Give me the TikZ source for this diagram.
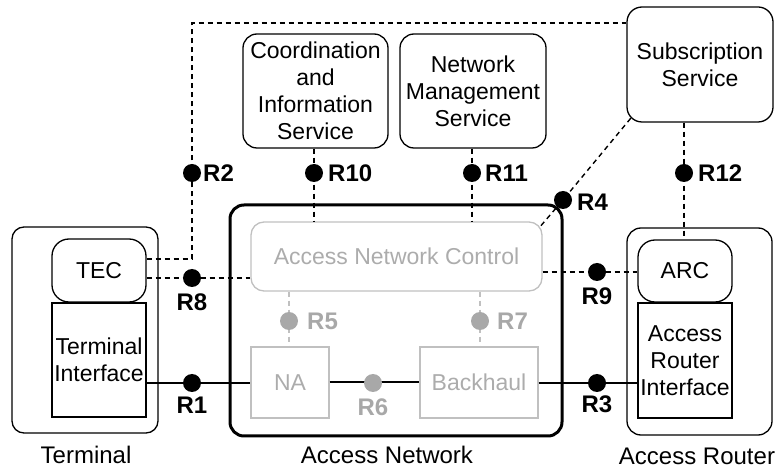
\documentclass[tikz,border=0pt]{standalone}
\usepackage{fontspec}
\setmainfont{Liberation Sans}
\definecolor{ancline}{RGB}{192,192,192}
\definecolor{anctext}{RGB}{172,172,172}
\definecolor{refgray}{RGB}{168,168,168}
\tikzset{
  txt/.style={font=\fontsize{23}{27}\selectfont, align=center, inner sep=0pt},
  box/.style={draw, line width=1.3pt, inner sep=0pt, txt},
  rbox/.style={box, rounded corners=14pt},
  greybox/.style={box, draw=ancline, text=anctext},
  dsh/.style={line width=1.4pt, dash pattern=on 5pt off 4pt},
  gdsh/.style={dsh, draw=ancline},
  link/.style={line width=2pt},
  dot/.style={circle, fill=black, minimum size=18pt, inner sep=0pt},
  gdot/.style={dot, fill=refgray},
  rlbl/.style={font=\fontsize{24}{28}\selectfont\bfseries, inner sep=0pt},
  grlbl/.style={rlbl, text=refgray},
}
\begin{document}
\begin{tikzpicture}[x=1pt, y=-1pt]
\useasboundingbox (0,0) rectangle (780,470);

% containers
\node[rbox, rounded corners=12pt, minimum width=146pt, minimum height=206pt] (term) at (85,330) {};
\node[rbox, minimum width=145pt, minimum height=207pt] (router) at (699.5,331.5) {};
\node[rbox, line width=3pt, minimum width=332pt, minimum height=231pt] (an) at (396,320.5) {};

% terminal parts
\node[rbox, rounded corners=17pt, minimum width=94pt, minimum height=63pt] (tec) at (99,270.5) {TEC};
\node[box, minimum width=94pt, minimum height=114pt] (ti) at (99,360) {Terminal\\Interface};

% access router parts
\node[rbox, rounded corners=17pt, minimum width=94pt, minimum height=62pt] (arc) at (685,271) {ARC};
\node[box, minimum width=94pt, minimum height=115pt] (ari) at (685,360.5) {Access\\Router\\Interface};

% access network parts
\node[greybox, rounded corners=13pt, minimum width=291pt, minimum height=69pt] (anc) at (396.5,256.5) {Access Network Control};
\node[greybox, minimum width=78pt, minimum height=71pt] (na) at (290,382.5) {NA};
\node[greybox, minimum width=118pt, minimum height=71pt] (bh) at (479,382.5) {Backhaul};

% services
\node[rbox, minimum width=145pt, minimum height=114pt] (cis) at (315.5,91) {Coordination\\and\\Information\\Service};
\node[rbox, minimum width=146pt, minimum height=114pt] (nms) at (473,91) {Network\\Management\\Service};
\node[rbox, rounded corners=15pt, minimum width=146pt, minimum height=115pt] (sub) at (700,64.5) {Subscription\\Service};

% captions
\node[txt, font=\fontsize{24}{28}\selectfont] (cterm) at (86,455) {Terminal};
\node[txt, font=\fontsize{24}{28}\selectfont] (can) at (387,455) {Access Network};
\node[txt, font=\fontsize{24}{28}\selectfont] (crouter) at (697,456) {Access Router};

% reference point positions
\coordinate (p2) at (192,173);
\coordinate (p10) at (314,173);
\coordinate (p11) at (472,173);
\coordinate (p12) at (684,173);
\coordinate (p4) at (563,200);
\coordinate (p8) at (192,278);
\coordinate (p9) at (597,272);
\coordinate (p1) at (192,383);
\coordinate (p3) at (597,383);
\coordinate (p6) at (373,383);
\coordinate (p5) at (289,321);
\coordinate (p7) at (480,321);

% dashed control links
\draw[dsh] ([yshift=11.5pt]tec.east) -| (p2) |- ([yshift=41.5pt]sub.west);
\draw[dsh] ([yshift=-7.5pt]tec.east) -- (anc.west |- p8);
\draw[dsh] (anc.east |- p9) -- (arc.west |- p9);
\draw[dsh] (cis.south -| p10) -- (anc.north -| p10);
\draw[dsh] (nms.south -| p11) -- (anc.north -| p11);
\draw[dsh] (sub.south -| p12) -- (arc.north -| p12);
\draw[dsh] ([xshift=4.4pt,yshift=4.4pt]sub.south west) -- (p4) -- ([xshift=-4pt,yshift=-7pt]anc.north east);
\draw[gdsh] (anc.south -| p5) -- (na.north -| p5);
\draw[gdsh] (anc.south -| p7) -- (bh.north -| p7);

% data path
\draw[link] (ti.east |- p1) -- (na.west |- p1);
\draw[link] (na.east) -- (bh.west);
\draw[link] (bh.east |- p3) -- (ari.west |- p3);

% reference points
\node[dot] (r1) at (p1) {};
\node[dot] (r2) at (p2) {};
\node[dot] (r3) at (p3) {};
\node[dot] (r4) at (p4) {};
\node[dot] (r8) at (p8) {};
\node[dot] (r9) at (p9) {};
\node[dot] (r10) at (p10) {};
\node[dot] (r11) at (p11) {};
\node[dot] (r12) at (p12) {};
\node[gdot] (r5) at (p5) {};
\node[gdot] (r6) at (p6) {};
\node[gdot] (r7) at (p7) {};

% reference point labels
\node[rlbl, anchor=west] (l2) at ([xshift=11pt]r2.center) {R2};
\node[rlbl, anchor=west] (l10) at ([xshift=14pt]r10.center) {R10};
\node[rlbl, anchor=west] (l11) at ([xshift=13pt]r11.center) {R11};
\node[rlbl, anchor=west] (l12) at ([xshift=14pt]r12.center) {R12};
\node[rlbl, anchor=west] (l4) at ([xshift=14pt,yshift=-2pt]r4.center) {R4};
\node[rlbl] (l8) at ([yshift=-24pt]r8.center) {R8};
\node[rlbl] (l9) at ([yshift=-24pt]r9.center) {R9};
\node[rlbl] (l1) at ([yshift=-22pt]r1.center) {R1};
\node[rlbl] (l3) at ([yshift=-21pt]r3.center) {R3};
\node[grlbl, anchor=west] (l5) at ([xshift=18pt]r5.center) {R5};
\node[grlbl, anchor=west] (l7) at ([xshift=17pt]r7.center) {R7};
\node[grlbl] (l6) at ([yshift=-24pt]r6.center) {R6};
\end{tikzpicture}
\end{document}
